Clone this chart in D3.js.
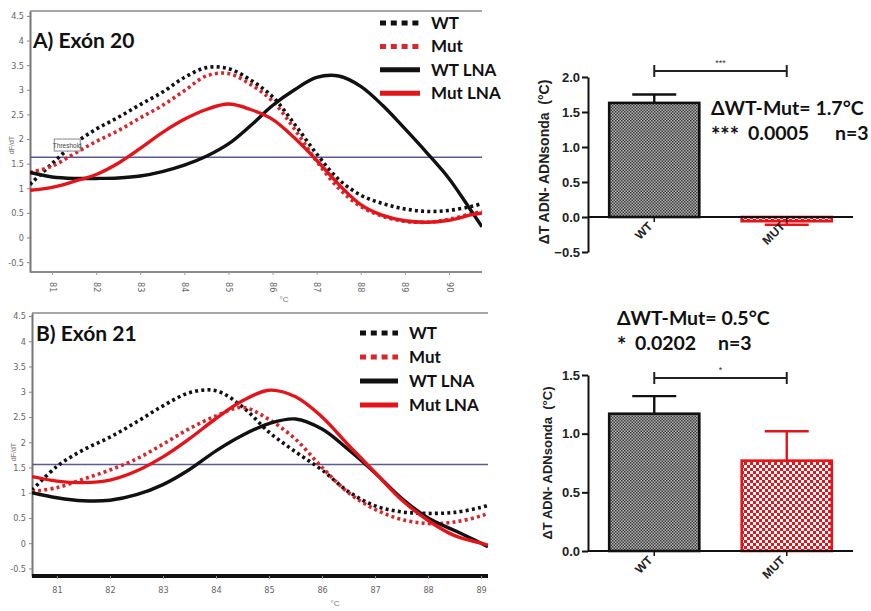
<!DOCTYPE html>
<html>
<head>
<meta charset="utf-8">
<script src="https://cdn.jsdelivr.net/npm/d3@7"></script>
<style>
	body { margin: 0; background: #fff; }
	svg { display: block; }
</style>
</head>
<body>
<div id="fig"></div>
<script>
// melt curves, exon 20
const temps20 = [80.5, 81, 81.5, 82, 82.5, 83, 83.5, 84, 84.5, 85, 85.5, 86, 86.5, 87, 87.5, 88, 88.5, 89, 89.5, 90, 90.5, 90.75];
const wt20 = [1.08, 1.5, 1.9, 2.2, 2.44, 2.7, 2.95, 3.25, 3.45, 3.43, 3.2, 2.86, 2.3, 1.7, 1.18, 0.86, 0.69, 0.58, 0.53, 0.55, 0.63, 0.69];
const mut20 = [1.32, 1.45, 1.7, 1.95, 2.17, 2.43, 2.68, 2.98, 3.28, 3.33, 3.11, 2.77, 2.2, 1.55, 1.0, 0.63, 0.43, 0.33, 0.31, 0.37, 0.48, 0.53];
const wtLna20 = [1.32, 1.23, 1.2, 1.2, 1.21, 1.25, 1.34, 1.47, 1.65, 1.9, 2.27, 2.68, 3.0, 3.25, 3.28, 3.07, 2.68, 2.21, 1.72, 1.2, 0.55, 0.22];
const mutLna20 = [0.96, 1.02, 1.14, 1.28, 1.51, 1.81, 2.13, 2.4, 2.6, 2.71, 2.6, 2.4, 2.02, 1.57, 1.08, 0.67, 0.45, 0.34, 0.31, 0.35, 0.46, 0.5];
const threshold20 = 1.63;

// melt curves, exon 21
const temps21 = [80.53, 81, 81.5, 82, 82.5, 83, 83.5, 84, 84.5, 85, 85.5, 86, 86.5, 87, 87.5, 88, 88.5, 89, 89.13];
const wt21 = [1.05, 1.52, 1.85, 2.1, 2.4, 2.72, 2.98, 3.02, 2.7, 2.2, 1.81, 1.45, 1.02, 0.74, 0.62, 0.59, 0.61, 0.71, 0.75];
const mut21 = [1.02, 1.1, 1.27, 1.45, 1.67, 1.96, 2.27, 2.52, 2.69, 2.45, 2.06, 1.5, 1.0, 0.67, 0.47, 0.39, 0.42, 0.54, 0.59];
const wtLna21 = [1.0, 0.9, 0.84, 0.85, 0.96, 1.16, 1.46, 1.83, 2.14, 2.37, 2.46, 2.26, 1.85, 1.39, 0.89, 0.5, 0.25, 0.0, -0.07];
const mutLna21 = [1.32, 1.23, 1.2, 1.25, 1.43, 1.71, 2.07, 2.47, 2.82, 3.03, 2.9, 2.5, 1.94, 1.4, 0.86, 0.45, 0.15, 0.0, -0.04];
const threshold21 = 1.56;

const seriesNames = ['WT', 'Mut', 'WT LNA', 'Mut LNA'];
const meltYTicks = [-0.5, 0, 0.5, 1, 1.5, 2, 2.5, 3, 3.5, 4, 4.5];
const xTicks20 = [81, 82, 83, 84, 85, 86, 87, 88, 89, 90];
const xTicks21 = [81, 82, 83, 84, 85, 86, 87, 88, 89];

// bar charts
const groups = ['WT', 'MUT'];
const dT20 = [1.63, -0.06];
const err20 = [0.12, -0.05];
const dT21 = [1.17, 0.77];
const err21 = [0.15, 0.25];
const barTicks20 = [-0.5, 0, 0.5, 1, 1.5, 2];
const barTicks21 = [0, 0.5, 1, 1.5];

const RED = '#e3151b';
const styles = [
	{ color: '#111', dotted: true },
	{ color: '#d8262a', dotted: true },
	{ color: '#111', dotted: false },
	{ color: RED, dotted: false },
];

const svg = d3.select('#fig').append('svg').attr('width', 871).attr('height', 611);
const defs = svg.append('defs');

const pg = defs.append('pattern').attr('id', 'grayCheck').attr('patternUnits', 'userSpaceOnUse')
	.attr('width', 3).attr('height', 3);
pg.append('rect').attr('width', 3).attr('height', 3).attr('fill', '#b4b4b4');
pg.append('rect').attr('width', 1.5).attr('height', 1.5).attr('fill', '#3a3a3a');
pg.append('rect').attr('x', 1.5).attr('y', 1.5).attr('width', 1.5).attr('height', 1.5).attr('fill', '#3a3a3a');

const pr = defs.append('pattern').attr('id', 'redCheck').attr('patternUnits', 'userSpaceOnUse')
	.attr('width', 6).attr('height', 6);
pr.append('rect').attr('width', 6).attr('height', 6).attr('fill', '#fff');
pr.append('rect').attr('width', 3).attr('height', 3).attr('fill', RED);
pr.append('rect').attr('x', 3).attr('y', 3).attr('width', 3).attr('height', 3).attr('fill', RED);

function meltPanel(o) {
	const x = d3.scaleLinear().domain(o.xDomain).range([o.left, o.right]);
	const y = d3.scaleLinear().domain(o.yDomain).range([o.bottom, o.top]);
	const g = svg.append('g');

	defs.append('clipPath').attr('id', 'clip' + o.key).append('rect')
		.attr('x', o.left).attr('y', o.top)
		.attr('width', o.right - o.left).attr('height', o.bottom - o.top);

	// frame
	g.append('line').attr('x1', o.left).attr('x2', o.right).attr('y1', o.top).attr('y2', o.top)
		.attr('stroke', '#8a8a8a').attr('stroke-width', 1.5);

	const ya = g.append('g').attr('transform', `translate(${o.left},0)`)
		.call(d3.axisLeft(y).tickValues(meltYTicks).tickSize(3).tickSizeOuter(0)
			.tickFormat(d => String(d)));
	ya.select('.domain').attr('stroke', '#777').attr('stroke-width', 2);
	ya.selectAll('.tick line').attr('stroke', '#888');
	ya.selectAll('.tick text').attr('fill', '#666').attr('font-size', 9)
		.attr('font-family', 'Liberation Sans Narrow, DejaVu Sans Condensed, sans-serif');

	const xa = g.append('g').attr('transform', `translate(0,${o.bottom})`)
		.call(d3.axisBottom(x).tickValues(o.xTicks).tickSize(3).tickSizeOuter(0));
	xa.select('.domain').attr('stroke', o.bottomColor).attr('stroke-width', o.bottomWidth)
		.attr('d', `M${o.left},0H${o.right}`);
	xa.selectAll('.tick line').attr('stroke', '#999');
	const xt = xa.selectAll('.tick text').attr('fill', '#666').attr('font-size', 9)
		.attr('font-family', 'Liberation Sans Narrow, DejaVu Sans Condensed, sans-serif');
	if (o.rotateX) {
		xt.attr('transform', 'translate(0,7) rotate(90)').attr('y', 0).attr('dy', '0.32em')
			.attr('text-anchor', 'start').attr('x', 3);
	} else {
		xt.attr('y', 11);
	}

	// axis titles
	g.append('text').attr('transform', `translate(${o.left - 16},${o.yTitleY}) rotate(-90)`)
		.attr('text-anchor', 'middle').attr('font-size', 7).attr('fill', '#777')
		.attr('font-family', 'Liberation Sans, sans-serif').text('dF/dT');
	g.append('text').attr('x', o.xTitleX).attr('y', o.xTitleY)
		.attr('text-anchor', 'middle').attr('font-size', 8).attr('fill', '#777')
		.attr('font-family', 'Liberation Sans, sans-serif').text('°C');

	const plot = g.append('g').attr('clip-path', `url(#clip${o.key})`);

	// threshold
	plot.append('line').attr('x1', o.left).attr('x2', o.right)
		.attr('y1', y(o.threshold)).attr('y2', y(o.threshold))
		.attr('stroke', '#5a5a94').attr('stroke-width', 1.5);

	const line = d3.line()
		.x((d, i) => x(o.temps[i]))
		.y(d => y(d))
		.curve(d3.curveCatmullRom);

	o.series.forEach((vals, i) => {
		const s = styles[i];
		plot.append('path').attr('d', line(vals)).attr('fill', 'none')
			.attr('stroke', s.color)
			.attr('stroke-width', s.dotted ? 3.6 : 3.4)
			.attr('stroke-dasharray', s.dotted ? '3,3.2' : null);
	});

	if (o.thresholdLabel) {
		const lb = g.append('g').attr('transform', `translate(${x(o.labelAt[0])},${y(o.labelAt[1])})`);
		lb.append('rect').attr('width', 26).attr('height', 12).attr('fill', '#fff')
			.attr('stroke', '#888').attr('stroke-width', 1);
		lb.append('text').attr('x', 13).attr('y', 8.5).attr('text-anchor', 'middle')
			.attr('font-size', 6.5).attr('fill', '#444')
			.attr('font-family', 'Liberation Sans Narrow, sans-serif').text('Threshold');
	}

	// legend
	seriesNames.forEach((name, i) => {
		const s = styles[i];
		const ly = o.legendY + i * o.legendStep;
		g.append('line').attr('x1', o.legendX).attr('x2', o.legendX + o.legendLen)
			.attr('y1', ly).attr('y2', ly)
			.attr('stroke', s.color).attr('stroke-width', 5)
			.attr('stroke-dasharray', s.dotted ? '6,4.8' : null);
		g.append('text').attr('x', o.legendX + o.legendLen + 11).attr('y', ly).attr('dy', '0.35em')
			.attr('font-family', 'Lato, sans-serif').attr('font-weight', 700).attr('font-size', 17)
			.attr('fill', '#111').text(name);
	});

	g.append('text').attr('x', o.titleX).attr('y', o.titleY).attr('dy', '0.35em')
		.attr('font-family', 'Lato, sans-serif').attr('font-weight', 700).attr('font-size', 21)
		.attr('fill', '#111').text(o.title);
}

function barPanel(o) {
	const x = d3.scaleBand().domain(groups).range([588, 853]).paddingInner(0.32).paddingOuter(0.16);
	const y = d3.scaleLinear().domain(o.yDomain).range([o.bottom, o.top]);
	const g = svg.append('g');
	const font = 'Liberation Sans, Arial, sans-serif';

	const ya = g.append('g').attr('transform', 'translate(588,0)')
		.call(d3.axisLeft(y).tickValues(o.ticks).tickSize(6).tickSizeOuter(0).tickFormat(d3.format('.1f')));
	ya.select('.domain').attr('stroke', '#111').attr('stroke-width', 2);
	ya.selectAll('.tick line').attr('stroke', '#111').attr('stroke-width', 2);
	ya.selectAll('.tick text').attr('font-family', font).attr('font-weight', 700)
		.attr('font-size', 13).attr('fill', '#222').attr('x', -8);

	const fills = ['url(#grayCheck)', 'url(#redCheck)'];
	const strokes = ['#111', RED];

	g.selectAll('rect.bar').data(o.values).join('rect').attr('class', 'bar')
		.attr('x', (d, i) => x(groups[i]))
		.attr('width', x.bandwidth())
		.attr('y', d => Math.min(y(d), y(0)))
		.attr('height', d => Math.max(1, Math.abs(y(d) - y(0))))
		.attr('fill', (d, i) => fills[i])
		.attr('stroke', (d, i) => strokes[i]).attr('stroke-width', 2.6);

	o.values.forEach((v, i) => {
		const cx = x(groups[i]) + x.bandwidth() / 2;
		const e = v + o.errors[i];
		g.append('line').attr('x1', cx).attr('x2', cx).attr('y1', y(v)).attr('y2', y(e))
			.attr('stroke', strokes[i]).attr('stroke-width', 2.4);
		g.append('line').attr('x1', cx - 22).attr('x2', cx + 22).attr('y1', y(e)).attr('y2', y(e))
			.attr('stroke', strokes[i]).attr('stroke-width', 2.4);
	});

	// category axis on the zero line
	const xa = g.append('g').attr('transform', `translate(0,${y(0)})`)
		.call(d3.axisBottom(x).tickSize(5).tickSizeOuter(0));
	xa.select('.domain').attr('stroke', '#111').attr('stroke-width', 2).attr('d', 'M588,0H853');
	xa.selectAll('.tick line').attr('stroke', '#111').attr('stroke-width', 1.5);
	xa.selectAll('.tick text').attr('font-family', font).attr('font-weight', 700).attr('font-size', 12)
		.attr('fill', '#222').attr('text-anchor', 'end').attr('y', 0).attr('dy', 0)
		.attr('transform', 'translate(-1,10) rotate(-45)');

	g.append('text').attr('transform', `translate(${o.titleX},${o.titleY}) rotate(-90)`)
		.attr('text-anchor', 'middle').attr('font-family', font).attr('font-weight', 700)
		.attr('font-size', o.titleSize).attr('fill', '#222').attr('xml:space', 'preserve')
		.text('ΔT ADN- ADNsonda  (°C)');

	// significance bracket
	const c0 = x('WT') + x.bandwidth() / 2, c1 = x('MUT') + x.bandwidth() / 2;
	g.append('path').attr('d', `M${c0},${o.bracketY - 6}V${o.bracketY + 6}M${c0},${o.bracketY}H${c1}M${c1},${o.bracketY - 6}V${o.bracketY + 6}`)
		.attr('fill', 'none').attr('stroke', '#222').attr('stroke-width', 2);
	g.append('text').attr('x', (c0 + c1) / 2).attr('y', o.bracketY - 5).attr('text-anchor', 'middle')
		.attr('font-family', font).attr('font-size', 9).attr('fill', '#333').text(o.stars);

	// annotation
	const big = 'Lato, sans-serif';
	g.append('text').attr('x', o.noteX).attr('y', o.noteY)
		.attr('font-family', big).attr('font-weight', 700).attr('font-size', 19.5).attr('fill', '#111')
		.text(o.note1);
	const l2 = g.append('text').attr('y', o.noteY + 24)
		.attr('font-family', big).attr('font-weight', 700).attr('font-size', 19.5).attr('fill', '#111');
	l2.append('tspan').attr('x', o.noteX).attr('font-size', 22).attr('dy', '0.2em').text(o.stars);
	l2.append('tspan').attr('x', o.pX).attr('dy', '-0.2em').text(o.pText);
	l2.append('tspan').attr('x', o.nX).text('n=3');
}

meltPanel({
	key: 'a', temps: temps20, series: [wt20, mut20, wtLna20, mutLna20], threshold: threshold20,
	xDomain: [80.5, 90.75], yDomain: [-0.7, 4.6], left: 30, right: 482, top: 11, bottom: 272,
	xTicks: xTicks20, rotateX: true, bottomColor: '#8a8a8a', bottomWidth: 2,
	yTitleY: 145, xTitleX: 284, xTitleY: 302,
	thresholdLabel: true, labelAt: [81.05, 2.0],
	legendX: 380, legendLen: 40, legendY: 23, legendStep: 23.4,
	title: 'A) Exón 20', titleX: 33, titleY: 41,
});

meltPanel({
	key: 'b', temps: temps21, series: [wt21, mut21, wtLna21, mutLna21], threshold: threshold21,
	xDomain: [80.53, 89.13], yDomain: [-0.65, 4.56], left: 32, right: 488, top: 313, bottom: 576,
	xTicks: xTicks21, rotateX: false, bottomColor: '#111', bottomWidth: 4,
	yTitleY: 452, xTitleX: 335, xTitleY: 606,
	thresholdLabel: false,
	legendX: 360, legendLen: 38, legendY: 333, legendStep: 24,
	title: 'B) Exón 21', titleX: 36, titleY: 334,
});

barPanel({
	values: dT20, errors: err20, ticks: barTicks20, yDomain: [-0.5, 2.0], top: 77, bottom: 252,
	titleX: 549, titleY: 162, titleSize: 14, bracketY: 71, stars: '***',
	note1: 'ΔWT-Mut= 1.7°C', noteX: 711, noteY: 115, pX: 748, pText: '0.0005', nX: 835,
});

barPanel({
	values: dT21, errors: err21, ticks: barTicks21, yDomain: [0, 1.5], top: 375, bottom: 551,
	titleX: 552, titleY: 463, titleSize: 13, bracketY: 378, stars: '*',
	note1: 'ΔWT-Mut= 0.5°C', noteX: 617, noteY: 325, pX: 635, pText: '0.0202', nX: 718,
});
</script>
</body>
</html>
